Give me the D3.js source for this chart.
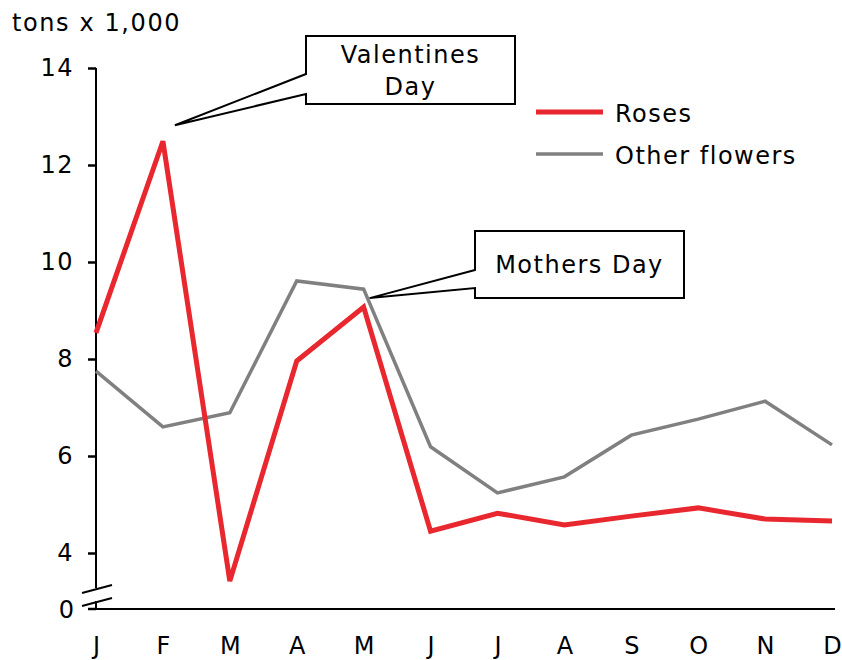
<!DOCTYPE html>
<html>
<head>
<meta charset="utf-8">
<script src="https://cdn.jsdelivr.net/npm/d3@7"></script>
<style>
  body { margin: 0; background: #fff; }
  text { font-family: "DejaVu Sans", Verdana, sans-serif; font-size: 24px; fill: #000; }
</style>
</head>
<body>
<div class="chart"></div>
<script>
/* month labels and series values (tons x 1,000) */
const months = ["J", "F", "M", "A", "M", "J", "J", "A", "S", "O", "N", "D"];
const roses = [8.54, 12.49, 3.42, 7.96, 9.07, 4.45, 4.82, 4.58, 4.76, 4.93, 4.7, 4.66];
const others = [7.75, 6.6, 6.89, 9.61, 9.44, 6.19, 5.24, 5.57, 6.43, 6.76, 7.13, 6.23];
const yTicks = [4, 6, 8, 10, 12, 14];

const width = 842;
const height = 660;

const svg = d3.select(".chart")
  .append("svg")
  .attr("width", width)
  .attr("height", height);

/* x scale: one slot per month */
const xScale = d3.scalePoint()
  .domain(d3.range(months.length))
  .range([96, 832]);

/* y scale for the upper (unbroken) part of the axis */
const yScale = d3.scaleLinear()
  .domain([4, 14])
  .range([553, 68]);

const zeroY = 609;   // baseline below the axis break
const breakTop = 588;
const breakBottom = 601;

/* title */
svg.append("text")
  .attr("x", 12)
  .attr("y", 31)
  .style("letter-spacing", "1.6px")
  .text("tons x 1,000");

/* y axis */
const yAxis = d3.axisLeft(yScale)
  .tickValues(yTicks)
  .tickSize(8)
  .tickPadding(14);

const gy = svg.append("g")
  .attr("transform", `translate(${xScale(0)},0)`)
  .call(yAxis);
gy.select(".domain").remove();
gy.selectAll(".tick line").attr("stroke", "#000").attr("stroke-width", 2.5);
gy.selectAll(".tick text")
  .style("font-size", "24px")
  .style("letter-spacing", "1.5px")
  .attr("fill", "#000");

/* axis line, split by the break */
svg.append("line")
  .attr("x1", xScale(0)).attr("x2", xScale(0))
  .attr("y1", yScale(14)).attr("y2", breakTop)
  .attr("stroke", "#000").attr("stroke-width", 2);
svg.append("line")
  .attr("x1", xScale(0)).attr("x2", xScale(0))
  .attr("y1", breakBottom).attr("y2", zeroY)
  .attr("stroke", "#000").attr("stroke-width", 2);

/* break marks */
[0, 13].forEach(off => {
  svg.append("line")
    .attr("x1", 82).attr("y1", 593 + off)
    .attr("x2", 112).attr("y2", 585 + off)
    .attr("stroke", "#000").attr("stroke-width", 2);
});

/* zero tick */
svg.append("line")
  .attr("x1", xScale(0) - 8).attr("x2", xScale(0))
  .attr("y1", zeroY).attr("y2", zeroY)
  .attr("stroke", "#000").attr("stroke-width", 2.5);
svg.append("text")
  .attr("x", xScale(0) - 22)
  .attr("y", zeroY + 1)
  .attr("dy", "0.32em")
  .attr("text-anchor", "end")
  .text("0");

/* x axis */
const xAxis = d3.axisBottom(xScale)
  .tickSize(0)
  .tickPadding(28)
  .tickFormat(i => months[i]);

const gx = svg.append("g")
  .attr("transform", `translate(0,${zeroY})`)
  .call(xAxis);
gx.select(".domain").remove();
gx.selectAll(".tick text")
  .style("font-size", "24px")
  .attr("fill", "#000");
svg.append("line")
  .attr("x1", xScale(0)).attr("x2", 835)
  .attr("y1", zeroY).attr("y2", zeroY)
  .attr("stroke", "#000").attr("stroke-width", 2);

/* lines */
const line = d3.line()
  .x((d, i) => xScale(i))
  .y(d => yScale(d));

svg.append("path")
  .datum(others)
  .attr("fill", "none")
  .attr("stroke", "#808080")
  .attr("stroke-width", 3.5)
  .attr("d", line);

svg.append("path")
  .datum(roses)
  .attr("fill", "none")
  .attr("stroke", "#e8272f")
  .attr("stroke-width", 5)
  .attr("d", line);

/* callouts: box with a wedge pointing to the data point */
function callout(box, tip, wedge, lines) {
  const [x0, y0, x1, y1] = box;
  const p = [
    [x0, wedge[0]], tip, [x0, wedge[1]],
    [x0, y1], [x1, y1], [x1, y0], [x0, y0]
  ];
  svg.append("path")
    .attr("d", "M" + p.map(q => q.join(",")).join("L") + "Z")
    .attr("fill", "#fff")
    .attr("stroke", "#000")
    .attr("stroke-width", 2)
    .attr("stroke-linejoin", "miter");
  const cx = (x0 + x1) / 2;
  const lh = 32;
  const startY = (y0 + y1) / 2 - (lines.length - 1) * lh / 2;
  lines.forEach((t, i) => {
    svg.append("text")
      .attr("x", cx)
      .attr("y", startY + i * lh)
      .attr("dy", "0.36em")
      .attr("text-anchor", "middle")
      .style("letter-spacing", "1.5px")
      .text(t);
  });
}

callout([306, 36, 515, 104], [xScale(1) + 12, yScale(roses[1]) - 16], [74, 94], ["Valentines", "Day"]);
callout([475, 231, 684, 298], [xScale(4) + 6, yScale(roses[4]) - 9], [270, 288], ["Mothers Day"]);

/* legend */
const legendItems = [
  { name: "Roses", color: "#e8272f", w: 5 },
  { name: "Other flowers", color: "#808080", w: 3.5 }
];
const legend = svg.append("g")
  .attr("transform", "translate(536,112)");
legend.selectAll("line")
  .data(legendItems)
  .enter()
  .append("line")
  .attr("x1", 0).attr("x2", 67)
  .attr("y1", (_, i) => i * 42).attr("y2", (_, i) => i * 42)
  .attr("stroke", d => d.color)
  .attr("stroke-width", d => d.w);
legend.selectAll("text")
  .data(legendItems)
  .enter()
  .append("text")
  .attr("x", 79)
  .attr("y", (_, i) => i * 42 + 1)
  .attr("dy", "0.36em")
  .style("letter-spacing", "1.5px")
  .text(d => d.name);
</script>
</body>
</html>
